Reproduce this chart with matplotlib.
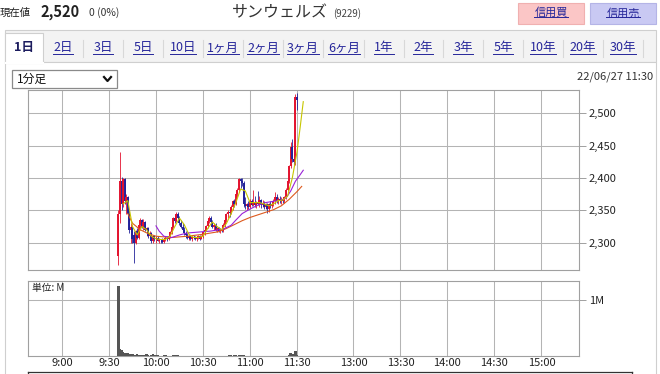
import matplotlib
matplotlib.use("Agg")
import matplotlib.pyplot as plt
from matplotlib.patches import Rectangle
from matplotlib.lines import Line2D

plt.rcParams['font.family'] = ['Noto Sans CJK JP', 'DejaVu Sans']

# ─── Data (minutes since 9:00; afternoon session shifted so 13:00 = 186) ─────

TIME_TICKS = [0, 30, 60, 90, 120, 150, 186, 216, 246, 276, 306]
TIME_LABELS = ["9:00", "9:30", "10:00", "10:30", "11:00", "11:30",
               "13:00", "13:30", "14:00", "14:30", "15:00"]
PRICE_TICKS = [2300, 2350, 2400, 2450, 2500]

FIRST_MINUTE = 36  # 9:36, first trade of the day

opens = [2280, 2345, 2395, 2360, 2398, 2365, 2370, 2345, 2320, 2325,
         2312, 2300, 2318, 2308, 2328, 2335, 2325, 2332, 2320, 2322,
         2310, 2315, 2302, 2310, 2305, 2308, 2303, 2306, 2305, 2301,
         2304, 2308, 2305, 2310, 2316, 2325, 2338, 2334, 2345, 2338,
         2330, 2325, 2320, 2315, 2312, 2308, 2310, 2306, 2309, 2307,
         2306, 2308, 2310, 2306, 2311, 2316, 2320, 2326, 2334, 2338,
         2332, 2325, 2328, 2320, 2322, 2318, 2320, 2318, 2328, 2335,
         2344, 2348, 2346, 2355, 2364, 2360, 2375, 2382, 2398, 2396,
         2392, 2360, 2356, 2360, 2355, 2365, 2358, 2362, 2358, 2362,
         2360, 2366, 2358, 2362, 2355, 2360, 2352, 2360, 2356, 2360,
         2364, 2370, 2365, 2368, 2364, 2366, 2364, 2370, 2382, 2395,
         2418, 2448, 2430, 2425, 2525]
highs = [2350, 2440, 2402, 2400, 2400, 2375, 2372, 2350, 2330, 2328,
         2318, 2320, 2322, 2330, 2338, 2337, 2336, 2334, 2325, 2324,
         2318, 2316, 2312, 2312, 2310, 2310, 2308, 2306, 2307, 2306,
         2310, 2310, 2312, 2318, 2328, 2340, 2345, 2348, 2347, 2342,
         2335, 2330, 2324, 2318, 2315, 2312, 2312, 2310, 2312, 2310,
         2310, 2312, 2312, 2312, 2318, 2322, 2328, 2336, 2342, 2342,
         2335, 2330, 2330, 2324, 2325, 2322, 2324, 2330, 2338, 2346,
         2350, 2352, 2358, 2366, 2368, 2378, 2385, 2400, 2400, 2400,
         2396, 2370, 2362, 2365, 2368, 2368, 2382, 2372, 2365, 2380,
         2372, 2368, 2366, 2364, 2362, 2362, 2362, 2364, 2362, 2368,
         2378, 2376, 2370, 2372, 2370, 2370, 2372, 2385, 2398, 2420,
         2455, 2460, 2448, 2530, 2532]
lows = [2265, 2330, 2350, 2355, 2360, 2345, 2340, 2315, 2300, 2300,
        2269, 2298, 2305, 2305, 2320, 2322, 2320, 2318, 2310, 2308,
        2305, 2300, 2300, 2302, 2300, 2302, 2300, 2300, 2300, 2300,
        2302, 2303, 2304, 2308, 2314, 2322, 2330, 2332, 2335, 2328,
        2322, 2318, 2312, 2308, 2305, 2304, 2304, 2303, 2305, 2304,
        2303, 2305, 2304, 2305, 2308, 2312, 2318, 2322, 2330, 2330,
        2322, 2320, 2318, 2316, 2316, 2315, 2316, 2316, 2325, 2332,
        2338, 2340, 2344, 2350, 2355, 2358, 2370, 2378, 2385, 2388,
        2355, 2352, 2350, 2352, 2354, 2356, 2356, 2355, 2354, 2358,
        2355, 2354, 2355, 2352, 2352, 2346, 2348, 2354, 2354, 2356,
        2360, 2362, 2360, 2362, 2360, 2362, 2362, 2368, 2380, 2392,
        2415, 2425, 2420, 2420, 2505]
closes = [2345, 2395, 2360, 2398, 2365, 2370, 2345, 2320, 2325, 2305,
          2300, 2318, 2308, 2328, 2335, 2325, 2332, 2320, 2322, 2310,
          2315, 2302, 2310, 2305, 2308, 2303, 2306, 2305, 2301, 2304,
          2308, 2305, 2310, 2316, 2325, 2338, 2334, 2345, 2338, 2330,
          2325, 2320, 2315, 2312, 2308, 2310, 2306, 2309, 2307, 2306,
          2308, 2310, 2306, 2311, 2316, 2320, 2326, 2334, 2338, 2332,
          2325, 2328, 2320, 2322, 2318, 2320, 2318, 2328, 2335, 2344,
          2348, 2346, 2355, 2364, 2360, 2375, 2382, 2398, 2396, 2392,
          2360, 2356, 2360, 2355, 2365, 2358, 2362, 2358, 2362, 2360,
          2366, 2358, 2362, 2355, 2360, 2352, 2360, 2356, 2360, 2364,
          2370, 2365, 2368, 2364, 2366, 2364, 2370, 2382, 2395, 2418,
          2448, 2430, 2425, 2525, 2520]
volumes = [1.25, 0.12, 0.10, 0.08, 0.06, 0.05, 0.05, 0.04, 0.03, 0.03,
           0.02, 0.02, 0.04, 0.02, 0.01, 0.01, 0.01, 0.00, 0.03, 0.01,
           0.00, 0.02, 0.03, 0.02, 0.00, 0.01, 0.00, 0.00, 0.00, 0.02,
           0.02, 0.00, 0.00, 0.00, 0.00, 0.02, 0.02, 0.02, 0.01, 0.00,
           0.00, 0.00, 0.00, 0.00, 0.00, 0.00, 0.00, 0.00, 0.00, 0.00,
           0.00, 0.00, 0.00, 0.00, 0.00, 0.00, 0.00, 0.00, 0.00, 0.00,
           0.00, 0.00, 0.00, 0.00, 0.00, 0.00, 0.00, 0.00, 0.00, 0.00,
           0.00, 0.02, 0.02, 0.00, 0.02, 0.02, 0.00, 0.02, 0.01, 0.00,
           0.01, 0.00, 0.00, 0.00, 0.00, 0.00, 0.00, 0.00, 0.00, 0.00,
           0.00, 0.00, 0.00, 0.00, 0.00, 0.00, 0.00, 0.00, 0.00, 0.00,
           0.00, 0.00, 0.00, 0.00, 0.00, 0.00, 0.00, 0.00, 0.00, 0.02,
           0.06, 0.03, 0.04, 0.09, 0.02]

# moving averages as (minute, price) points
ma_short_t = [39, 42, 45, 48, 51, 54, 57, 60, 63, 66, 69, 72, 75, 78, 81, 84,
              87, 90, 93, 96, 99, 102, 105, 108, 111, 114, 117, 120, 123, 126,
              129, 132, 135, 138, 141, 144, 147, 150, 152, 154]
ma_short = [2360, 2365, 2325, 2312, 2325, 2320, 2310, 2306, 2305, 2305, 2310,
            2325, 2338, 2328, 2313, 2308, 2308, 2310, 2322, 2332, 2325, 2320,
            2330, 2345, 2362, 2383, 2380, 2362, 2362, 2362, 2360, 2357, 2360,
            2365, 2366, 2372, 2400, 2440, 2478, 2518]
ma_mid_t = [60, 62, 65, 70, 75, 80, 85, 90, 95, 100, 103, 108, 111, 115, 120,
            125, 130, 135, 140, 143, 146, 149, 152, 154]
ma_mid = [2326, 2318, 2310, 2308, 2312, 2315, 2316, 2317, 2318, 2320, 2321,
          2327, 2335, 2345, 2352, 2358, 2362, 2364, 2366, 2369, 2380, 2395,
          2405, 2412]
ma_long_t = [42, 45, 50, 55, 60, 70, 80, 90, 100, 105, 110, 115, 120, 125, 130,
             135, 140, 145, 150, 153]
ma_long = [2345, 2330, 2320, 2314, 2310, 2308, 2310, 2313, 2317, 2322, 2328,
           2334, 2339, 2343, 2347, 2351, 2357, 2367, 2379, 2387]

# ─── Layout helpers (pixel coordinates of the 660x374 picture) ───────────────

W, H = 660, 374
LINK = "#26269a"
GRID = "#b4b4b4"
EDGE = "#a0a0a0"


def fx(x):
    return x / W


def fy(y):
    return 1 - y / H


def box(fig, x0, y0, x1, y1, face, edge, lw=0.8, z=0):
    fig.add_artist(Rectangle((fx(x0), fy(y1)), (x1 - x0) / W, (y1 - y0) / H,
                             transform=fig.transFigure, facecolor=face,
                             edgecolor=edge, linewidth=lw, zorder=z))


def hline(fig, x0, x1, y, color, lw=0.8, z=1):
    fig.add_artist(Line2D([fx(x0), fx(x1)], [fy(y), fy(y)],
                          transform=fig.transFigure, color=color, lw=lw, zorder=z))


def vline(fig, x, y0, y1, color, lw=0.8, z=1):
    fig.add_artist(Line2D([fx(x), fx(x)], [fy(y0), fy(y1)],
                          transform=fig.transFigure, color=color, lw=lw, zorder=z))


fig = plt.figure(figsize=(6.6, 3.74), dpi=100)

# ── Header ─────────────────────────────────────────────────────────────

fig.text(fx(0), fy(13), "現在値", fontsize=7.5, color="#222", va="center")
fig.text(fx(40), fy(12), "2,520", fontsize=10.5, fontweight="bold",
         color="#222", va="center")
fig.text(fx(89), fy(13), "0 (0%)", fontsize=7.5, color="#333", va="center")
fig.text(fx(232), fy(13), "サンウェルズ", fontsize=11.5, color="#333",
         va="center")
fig.text(fx(333), fy(14), "(9229)", fontsize=7, color="#444", va="center")

box(fig, 518, 3, 584, 24, "#fbc6c6", "#f0b0b0")
box(fig, 590, 3, 656, 24, "#c9c9f3", "#b4b4e6")
links = []
links.append(fig.text(fx(551), fy(13), "信用買", fontsize=8, color=LINK,
                      ha="center", va="center"))
links.append(fig.text(fx(623), fy(13), "信用売", fontsize=8, color=LINK,
                      ha="center", va="center"))

# ── Period tabs ────────────────────────────────────────────────────────

box(fig, 5, 30, 656, 62, "#f3f3f3", "#cfcfcf")
box(fig, 5, 62, 656, 380, "white", "#cfcfcf")
box(fig, 5, 33, 43, 63, "white", "#cfcfcf", z=1)
hline(fig, 5.5, 42.5, 62.5, "white", lw=1.5, z=2)
fig.text(fx(24), fy(48), "1日", fontsize=9, fontweight="bold", color="#1c1c5e",
         ha="center", va="center")

tab_labels = ["2日", "3日", "5日", "10日", "1ヶ月", "2ヶ月", "3ヶ月", "6ヶ月",
              "1年", "2年", "3年", "5年", "10年", "20年", "30年"]
tab_centers = [63, 103, 143, 183, 223, 263, 303, 344, 384, 423, 463, 503, 543,
               583, 623]
for lab, cx in zip(tab_labels, tab_centers):
    links.append(fig.text(fx(cx), fy(48), lab, fontsize=9, color=LINK,
                          ha="center", va="center"))
    vline(fig, cx + 20, 40, 57, "#d8d8d8")

# dropdown and time stamp
box(fig, 12, 70, 117, 88, "white", "#8a8a8a", lw=0.9)
fig.text(fx(17), fy(79), "1分足", fontsize=8.5, color="#111", va="center")
fig.add_artist(Line2D([fx(104), fx(107.5), fx(111)], [fy(77), fy(81), fy(77)],
                      transform=fig.transFigure, color="#111", lw=1.6))
fig.text(fx(653), fy(77), "22/06/27 11:30", fontsize=8, color="#333",
         ha="right", va="center")

# ── Price panel ────────────────────────────────────────────────────────

ax = fig.add_axes([fx(28), fy(270), 551 / W, 180 / H])
ax.set_xlim(-21.7, 330)
ax.set_ylim(2257.8, 2536)
ax.set_xticks(TIME_TICKS)
ax.tick_params(axis="x", length=0, labelbottom=False)
ax.yaxis.tick_right()
ax.set_yticks(PRICE_TICKS)
ax.set_yticklabels([f"{v:,}" for v in PRICE_TICKS])
ax.tick_params(axis="y", length=5, width=0.7, color=EDGE, pad=2,
               labelsize=8, labelcolor="#222")
ax.grid(color=GRID, lw=0.75)
ax.set_axisbelow(True)
for sp in ax.spines.values():
    sp.set_color(EDGE)
    sp.set_linewidth(0.8)

times = list(range(FIRST_MINUTE, FIRST_MINUTE + len(closes)))
colors = []
for o, c in zip(opens, closes):
    if c > o:
        colors.append("#e3122e")
    elif c < o:
        colors.append("#22229a")
    else:
        colors.append("#111111")
body_lo = [min(o, c) for o, c in zip(opens, closes)]
body_hi = [max(o, c) for o, c in zip(opens, closes)]
ax.vlines(times, lows, highs, colors=colors, lw=0.6, zorder=3)
ax.vlines(times, body_lo, body_hi, colors=colors, lw=1.4, zorder=3)

ax.plot(ma_long_t, ma_long, color="#dd5a1e", lw=0.8, zorder=4)
ax.plot(ma_mid_t, ma_mid, color="#9a22d8", lw=0.8, zorder=4)
ax.plot(ma_short_t, ma_short, color="#c6c600", lw=0.8, zorder=4)

# ── Volume panel ───────────────────────────────────────────────────────

ax2 = fig.add_axes([fx(28), fy(356), 551 / W, 75 / H])
ax2.set_xlim(-21.7, 330)
ax2.set_ylim(0, 1.339)
ax2.set_xticks(TIME_TICKS)
ax2.set_xticklabels(TIME_LABELS)
ax2.tick_params(axis="x", length=0, pad=1.5, labelsize=8, labelcolor="#222")
ax2.yaxis.tick_right()
ax2.set_yticks([1.0])
ax2.set_yticklabels(["1M"])
ax2.tick_params(axis="y", length=5, width=0.7, color=EDGE, pad=2,
                labelsize=8, labelcolor="#222")
ax2.grid(color=GRID, lw=0.75)
ax2.set_axisbelow(True)
for sp in ax2.spines.values():
    sp.set_color(EDGE)
    sp.set_linewidth(0.8)
ax2.bar(times, volumes, width=1.6, color="#555555", zorder=3)
ax2.text(0.008, 0.9, "単位: M", transform=ax2.transAxes, fontsize=7,
         color="#222", va="center")

# cut-off table below the chart
hline(fig, 28, 632, 371.5, "#333", lw=0.9)
vline(fig, 28, 371.5, 375, "#333", lw=0.9)
vline(fig, 632, 371.5, 375, "#333", lw=0.9)

# underline the links
fig.canvas.draw()
renderer = fig.canvas.get_renderer()
for t in links:
    bb = t.get_window_extent(renderer)
    y = bb.y0 + 1
    fig.add_artist(Line2D([bb.x0 / W, bb.x1 / W], [y / H, y / H],
                          transform=fig.transFigure, color=LINK, lw=0.7))

fig.savefig("out.png", dpi=100)
